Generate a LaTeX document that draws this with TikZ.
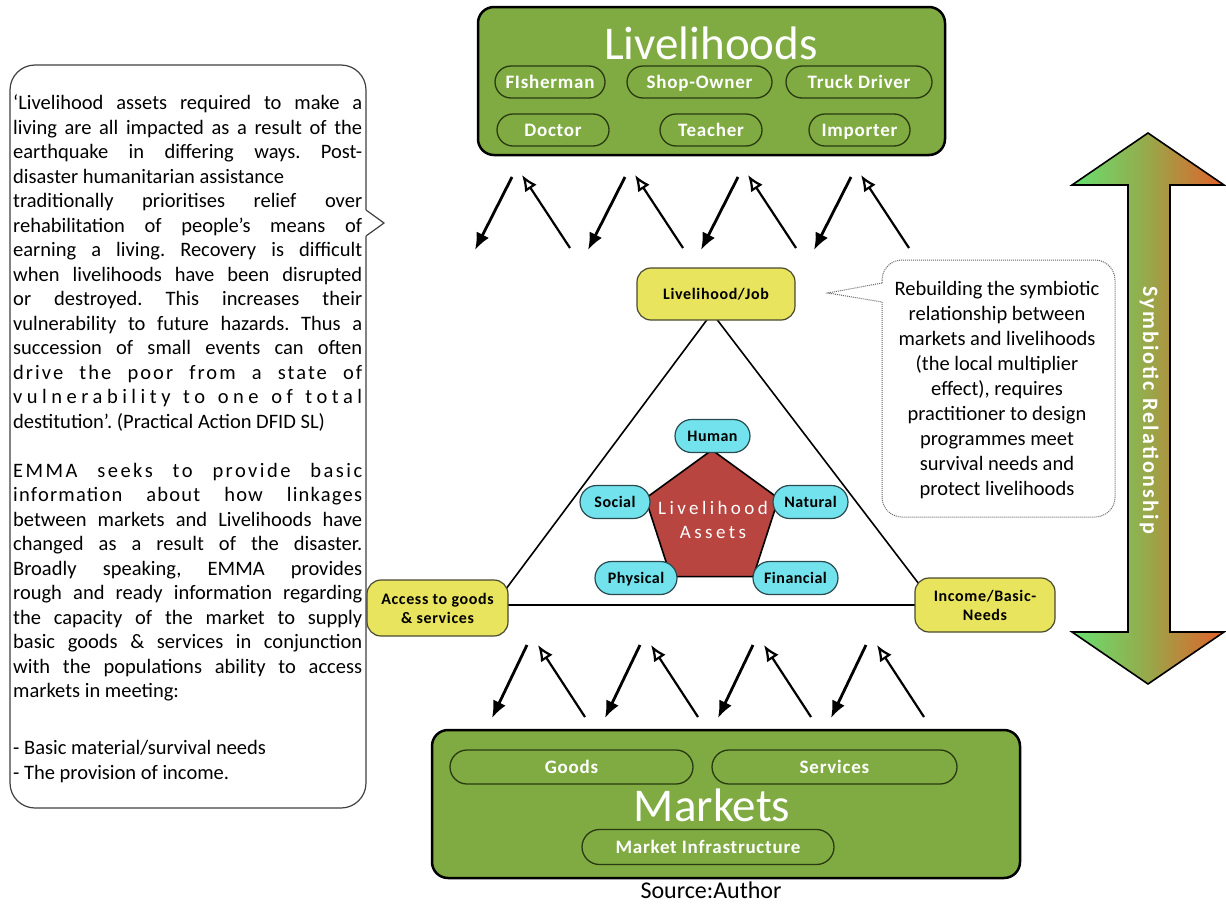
\documentclass[tikz,border=0pt]{standalone}
\usepackage{fontspec}
\setmainfont{Carlito}
\usetikzlibrary{arrows.meta,shapes.geometric,shapes.misc}
\definecolor{lgreen}{HTML}{7FAB42}
\definecolor{pilledge}{HTML}{2A3A10}
\definecolor{yfill}{HTML}{E8E45E}
\definecolor{yedge}{HTML}{4A4A30}
\definecolor{cfill}{HTML}{72E2EC}
\definecolor{cedge}{HTML}{2A4A50}
\definecolor{pred}{HTML}{B8453F}
\definecolor{agreen}{HTML}{66E070}
\definecolor{aolive}{HTML}{98A84A}
\definecolor{aorange}{HTML}{E3602A}
\newcommand{\JL}[1]{\hbox to 349pt{#1}}
\newcommand{\JLS}[2]{\hbox to 349pt{\addfontfeatures{LetterSpace=#1}#2}}
\newcommand{\RL}[1]{\hbox to 349pt{#1\hfil}}
\begin{document}
\begin{tikzpicture}[x=1pt,y=-1pt,
  bigbox/.style={draw=black, line width=2.5pt, fill=lgreen, rounded corners=16pt, inner sep=0pt},
  gpill/.style={rounded rectangle, draw=pilledge, line width=1.3pt, fill=lgreen, text=white,
    font=\bfseries\fontsize{19}{21}\selectfont\addfontfeatures{LetterSpace=4},
    inner sep=0pt, minimum height=32pt, text height=12pt, text depth=0pt},
  ybox/.style={draw=yedge, line width=1.2pt, fill=yfill, rounded corners=14pt, align=center,
    font=\bfseries\fontsize{16}{19}\selectfont\addfontfeatures{LetterSpace=4}, inner sep=0pt},
  cpill/.style={rounded rectangle, draw=cedge, line width=1.2pt, fill=cfill, inner sep=0pt,
    font=\bfseries\fontsize{16}{18}\selectfont\addfontfeatures{LetterSpace=3},
    minimum height=33pt, text height=10pt, text depth=0pt},
  downarr/.style={line width=2.8pt, -{Latex[length=17pt,width=14pt]}},
  uparr/.style={line width=2.2pt, -{Latex[open,length=16pt,width=14pt]}},
  tri/.style={line width=1.6pt, draw=black}
]
\useasboundingbox (0,0) rectangle (1226,905);

% ---------- Livelihoods box ----------
\node[bigbox, minimum width=467pt, minimum height=148pt] (livbox) at (711.5,81) {};
\node[text=white, font=\fontsize{47}{47}\selectfont] (livtitle) at (711,43) {Livelihoods};
\node[gpill, minimum width=110pt] (fish) at (550,82) {FIsherman};
\node[gpill, minimum width=145pt] (shop) at (699.5,82) {Shop-Owner};
\node[gpill, minimum width=146pt] (truck) at (859,82) {Truck Driver};
\node[gpill, minimum width=112pt] (doctor) at (553,130) {Doctor};
\node[gpill, minimum width=102pt] (teacher) at (711,130) {Teacher};
\node[gpill, minimum width=101pt] (importer) at (859.5,130) {Importer};

% ---------- Markets box ----------
\node[bigbox, minimum width=588pt, minimum height=148pt] (mktbox) at (726,804) {};
\node[gpill, minimum width=243pt, minimum height=34pt] (goods) at (571.5,767) {Goods};
\node[gpill, minimum width=245pt, minimum height=34pt] (services) at (834.5,767) {Services};
\node[text=white, font=\fontsize{47}{47}\selectfont] (mkttitle) at (712,805) {Markets};
\node[gpill, minimum width=252pt, minimum height=35pt] (infra) at (708,847) {Market Infrastructure};
\node[font=\fontsize{24}{25}\selectfont] (src) at (711,890) {Source:Author};

% ---------- arrows ----------
\foreach \i in {0,1,2,3}{
  \pgfmathsetmacro{\dx}{113*\i}
  \coordinate (tds\i) at (512+\dx,177); \coordinate (tde\i) at (475+\dx,250);
  \coordinate (tus\i) at (570+\dx,248); \coordinate (tue\i) at (522+\dx,175);
  \coordinate (bds\i) at (527+\dx,645); \coordinate (bde\i) at (492+\dx,718);
  \coordinate (bus\i) at (585+\dx,717); \coordinate (bue\i) at (538+\dx,645);
  \draw[downarr] (tds\i) -- (tde\i);
  \draw[uparr] (tus\i) -- (tue\i);
  \draw[downarr] (bds\i) -- (bde\i);
  \draw[uparr] (bus\i) -- (bue\i);
}

% ---------- triangle ----------
\coordinate (tA) at (712,313);
\coordinate (tL) at (494,605);
\coordinate (tR) at (935,605);
\draw[tri] (tA) -- (tL) -- (tR) -- cycle;

% ---------- pentagon ----------
\node[regular polygon, regular polygon sides=5, minimum size=140pt, inner sep=0pt,
  draw=black, line width=1.6pt, fill=pred] (pent) at (712,520) {};
\node[text=white, align=center, font=\fontsize{19}{24}\selectfont\addfontfeatures{LetterSpace=18}] (pentlbl) at (713,520) {Livelihood\\Assets};
\node[cpill, minimum width=75pt] (human) at (712.5,436) {Human};
\node[cpill, minimum width=70pt] (social) at (615,502) {Social};
\node[cpill, minimum width=75pt] (natural) at (810.5,502) {Natural};
\node[cpill, minimum width=82pt] (physical) at (636,578) {Physical};
\node[cpill, minimum width=85pt] (financial) at (795.5,578) {Financial};

% ---------- yellow boxes ----------
\node[ybox, minimum width=158pt, minimum height=52pt] (job) at (716,294) {Livelihood/Job};
\node[ybox, minimum width=141pt, minimum height=56pt] (acc) at (437.5,608) {Access to goods\\\& services};
\node[ybox, minimum width=140pt, minimum height=54pt] (inc) at (985,605) {Income/Basic-\\Needs};

% ---------- left callout ----------
\draw[line width=1.2pt, draw=black!75, fill=white, rounded corners=25pt] (10,65) rectangle (366,808);
\fill[white] (362,210) -- (367,210) -- (384,223) -- (367,236) -- (362,236) -- cycle;
\draw[line width=1.2pt, draw=black!75] (366,210) -- (384,223) -- (366,236);
\node[anchor=north west, inner sep=0pt,
  font=\fontsize{20.5}{24.5}\selectfont] (lefttext) at (13,95) {\vbox{\frenchspacing
\JL{‘Livelihood assets required to make a}
\JL{living are all impacted as a result of the}
\JL{earthquake in differing ways. Post-}
\RL{disaster humanitarian assistance}
\JL{traditionally prioritises relief over}
\JL{rehabilitation of people’s means of}
\JL{earning a living. Recovery is difficult}
\JL{when livelihoods have been disrupted}
\JL{or destroyed. This increases their}
\JL{vulnerability to future hazards. Thus a}
\JL{succession of small events can often}
\JLS{10}{drive the poor from a state of}
\JLS{22}{vulnerability to one of total}
\RL{destitution’. (Practical Action DFID SL)}
\vskip 24.5pt
\JLS{12}{EMMA seeks to provide basic}
\JLS{6}{information about how linkages}
\JL{between markets and Livelihoods have}
\JL{changed as a result of the disaster.}
\JL{Broadly speaking, EMMA provides}
\JL{rough and ready information regarding}
\JL{the capacity of the market to supply}
\JL{basic goods \& services in conjunction}
\JL{with the populations ability to access}
\RL{markets in meeting:}
\vskip 32.5pt
\RL{- Basic material/survival needs}
\RL{- The provision of income.}
}};

% ---------- right callout ----------
\draw[line width=1pt, draw=black!60, densely dotted, fill=white, rounded corners=20pt] (882,260) rectangle (1115,517);
\fill[white] (880,283) -- (884,283) -- (884,302) -- (880,302) -- cycle;
\coordinate (rtip) at (828,293);
\draw[line width=1pt, draw=black!60, densely dotted] (882,283) -- (rtip) -- (882,302);
\node[align=center, inner sep=0pt, font=\fontsize{20.5}{25}\selectfont] (righttext) at (997,390) {Rebuilding the symbiotic\\relationship between\\markets and livelihoods\\(the local multiplier\\effect), requires\\practitioner to design\\programmes meet\\survival needs and\\protect livelihoods};

% ---------- symbiotic double arrow ----------
\path[draw=black, line width=1.6pt, left color=agreen, right color=aorange, middle color=aolive]
  (1148,133) -- (1224,185) -- (1170,185) -- (1170,632) -- (1224,632) -- (1148,684)
  -- (1072,632) -- (1128,632) -- (1128,185) -- (1072,185) -- cycle;
\node[rotate=-90, text=white, font=\bfseries\fontsize{22}{24}\selectfont\addfontfeatures{LetterSpace=10}] (symlbl) at (1149,410) {Symbiotic Relationship};
\end{tikzpicture}
\end{document}
